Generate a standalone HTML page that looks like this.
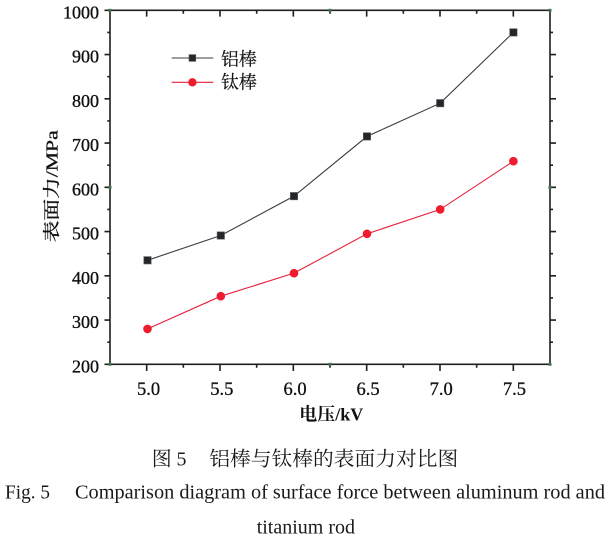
<!DOCTYPE html>
<html>
<head>
<meta charset="utf-8">
<style>
html,body{margin:0;padding:0;background:#fff;}
svg{display:block;}
</style>
</head>
<body>
<svg width="616" height="541" viewBox="0 0 616 541" xmlns="http://www.w3.org/2000/svg">
<rect width="616" height="541" fill="#fff"/>

<!-- ticks -->
<g stroke="#1e1e1e" stroke-width="1.6" fill="none">
  <path d="M146.67 364.3V371 M220 364.3V371 M293.33 364.3V371 M366.67 364.3V371 M440 364.3V371 M513.33 364.3V371"/>
  <path d="M183.33 364.3V367.8 M256.67 364.3V367.8 M330 364.3V367.8 M403.33 364.3V367.8 M476.67 364.3V367.8"/>
  <path d="M146.67 10.3V16.6 M220 10.3V16.6 M293.33 10.3V16.6 M366.67 10.3V16.6 M440 10.3V16.6 M513.33 10.3V16.6"/>
  <path d="M183.33 10.3V13.8 M256.67 10.3V13.8 M330 10.3V13.8 M403.33 10.3V13.8 M476.67 10.3V13.8"/>
  <path d="M104.5 320.05H110 M104.5 275.8H110 M104.5 231.55H110 M104.5 187.3H110 M104.5 143.05H110 M104.5 98.8H110 M104.5 54.55H110 M104.5 364.3H110 M104.5 10.3H110"/>
  <path d="M107.3 342.2H110 M107.3 297.9H110 M107.3 253.7H110 M107.3 209.4H110 M107.3 165.2H110 M107.3 120.9H110 M107.3 76.7H110 M107.3 32.4H110"/>
  <path d="M550 320.05H556 M550 275.8H556 M550 231.55H556 M550 187.3H556 M550 143.05H556 M550 98.8H556 M550 54.55H556"/>
  <path d="M550 342.2H553 M550 297.9H553 M550 253.7H553 M550 209.4H553 M550 165.2H553 M550 120.9H553 M550 76.7H553 M550 32.4H553"/>
</g>

<!-- frame -->
<rect x="110" y="10.3" width="440" height="354" fill="none" stroke="#1e1e1e" stroke-width="1.6"/>

<!-- corner markers -->
<g>
  <g fill="#2a8a3a">
    <rect x="108.5" y="8.8" width="3" height="3"/>
    <rect x="328.5" y="8.8" width="3" height="3"/>
    <rect x="548.5" y="8.8" width="3" height="3"/>
    <rect x="108.5" y="185.8" width="3" height="3"/>
    <rect x="548.5" y="185.8" width="3" height="3"/>
    <rect x="108.5" y="362.8" width="3" height="3"/>
    <rect x="328.5" y="362.8" width="3" height="3"/>
    <rect x="548.5" y="362.8" width="3" height="3"/>
  </g>
  <g fill="#9a2a9a">
    <rect x="109.3" y="9.6" width="1.4" height="1.4"/>
    <rect x="329.3" y="9.6" width="1.4" height="1.4"/>
    <rect x="549.3" y="9.6" width="1.4" height="1.4"/>
    <rect x="109.3" y="186.6" width="1.4" height="1.4"/>
    <rect x="549.3" y="186.6" width="1.4" height="1.4"/>
    <rect x="109.3" y="363.6" width="1.4" height="1.4"/>
    <rect x="329.3" y="363.6" width="1.4" height="1.4"/>
    <rect x="549.3" y="363.6" width="1.4" height="1.4"/>
  </g>
</g>

<!-- series lines -->
<polyline points="147.5,260.3 220.8,235.5 294,196.15 367,136.4 440.2,103.2 513.4,32.4" fill="none" stroke="#3a3d42" stroke-width="1.1"/>
<polyline points="147.5,328.9 220.8,296.2 294,273.15 367,233.8 440.2,209.4 513.4,161.2" fill="none" stroke="#e8203e" stroke-width="1.1"/>

<!-- square markers -->
<g fill="#262626" stroke="#5a6470" stroke-width="0.6">
  <rect x="143.8" y="256.6" width="7.4" height="7.4"/>
  <rect x="217.1" y="231.8" width="7.4" height="7.4"/>
  <rect x="290.3" y="192.45" width="7.4" height="7.4"/>
  <rect x="363.3" y="132.7" width="7.4" height="7.4"/>
  <rect x="436.5" y="99.5" width="7.4" height="7.4"/>
  <rect x="509.7" y="28.7" width="7.4" height="7.4"/>
</g>
<!-- circle markers -->
<g fill="#ee1c2e">
  <circle cx="147.5" cy="328.9" r="4.3"/>
  <circle cx="220.8" cy="296.2" r="4.3"/>
  <circle cx="294" cy="273.15" r="4.3"/>
  <circle cx="367" cy="233.8" r="4.3"/>
  <circle cx="440.2" cy="209.4" r="4.3"/>
  <circle cx="513.4" cy="161.2" r="4.3"/>
</g>

<!-- y tick labels -->
<g font-family="'Liberation Serif', serif" font-size="18" fill="#111" stroke="#111" stroke-width="0.35" text-anchor="end">
  <text x="99" y="18.3">1000</text>
  <text x="99" y="62.6">900</text>
  <text x="99" y="106.8">800</text>
  <text x="99" y="151.1">700</text>
  <text x="99" y="195.3">600</text>
  <text x="99" y="239.6">500</text>
  <text x="99" y="283.8">400</text>
  <text x="99" y="328.1">300</text>
  <text x="99" y="372.3">200</text>
</g>

<!-- x tick labels -->
<g font-family="'Liberation Serif', serif" font-size="18.5" fill="#111" stroke="#111" stroke-width="0.3" text-anchor="middle">
  <text x="148.5" y="395">5.0</text>
  <text x="221.8" y="395">5.5</text>
  <text x="295" y="395">6.0</text>
  <text x="368" y="395">6.5</text>
  <text x="441.2" y="395">7.0</text>
  <text x="514.4" y="395">7.5</text>
</g>

<!-- axis titles -->
<text x="299.3" y="420.5" font-family="'Liberation Serif', 'Noto Serif CJK SC', serif" font-size="18" font-weight="bold" fill="#111" textLength="64" lengthAdjust="spacingAndGlyphs">电压/kV</text>
<text transform="translate(57.5,186.3) rotate(-90)" x="0" y="0" text-anchor="middle" font-family="'Liberation Serif', 'Noto Serif CJK SC', serif" font-size="17" fill="#111" stroke="#111" stroke-width="0.3" textLength="112" lengthAdjust="spacingAndGlyphs">表面力/MPa</text>

<!-- legend -->
<line x1="171.7" y1="58" x2="213.3" y2="58" stroke="#3a3d42" stroke-width="1.1"/>
<rect x="189" y="54.6" width="6.8" height="6.8" fill="#262626" stroke="#5a6470" stroke-width="0.6"/>
<text x="221" y="65.3" font-family="'Noto Serif CJK SC', serif" font-size="18" fill="#111" stroke="#111" stroke-width="0.2" textLength="35.7" lengthAdjust="spacingAndGlyphs">铝棒</text>
<line x1="171.7" y1="82.3" x2="213.3" y2="82.3" stroke="#e8203e" stroke-width="1.1"/>
<circle cx="192.4" cy="82.3" r="4.2" fill="#ee1c2e"/>
<text x="221" y="88.6" font-family="'Noto Serif CJK SC', serif" font-size="18" fill="#111" stroke="#111" stroke-width="0.2" textLength="35.7" lengthAdjust="spacingAndGlyphs">钛棒</text>

<!-- captions -->
<text x="151.7" y="465.3" font-family="'Noto Serif CJK SC', serif" font-size="20" fill="#1a1a1a">图</text>
<text x="176.5" y="465.3" font-family="'Liberation Serif', serif" font-size="20" fill="#1a1a1a">5</text>
<text x="209.3" y="465.3" font-family="'Noto Serif CJK SC', serif" font-size="20" fill="#1a1a1a" textLength="249" lengthAdjust="spacingAndGlyphs">铝棒与钛棒的表面力对比图</text>

<text x="5" y="498.3" font-family="'Liberation Serif', serif" font-size="20" fill="#1a1a1a" textLength="45" lengthAdjust="spacingAndGlyphs">Fig. 5</text>
<text x="75" y="498.3" font-family="'Liberation Serif', serif" font-size="20" fill="#1a1a1a" textLength="530" lengthAdjust="spacingAndGlyphs">Comparison diagram of surface force between aluminum rod and</text>
<text x="256.7" y="533.3" font-family="'Liberation Serif', serif" font-size="20" fill="#1a1a1a" textLength="98.3" lengthAdjust="spacingAndGlyphs">titanium rod</text>
</svg>
</body>
</html>
